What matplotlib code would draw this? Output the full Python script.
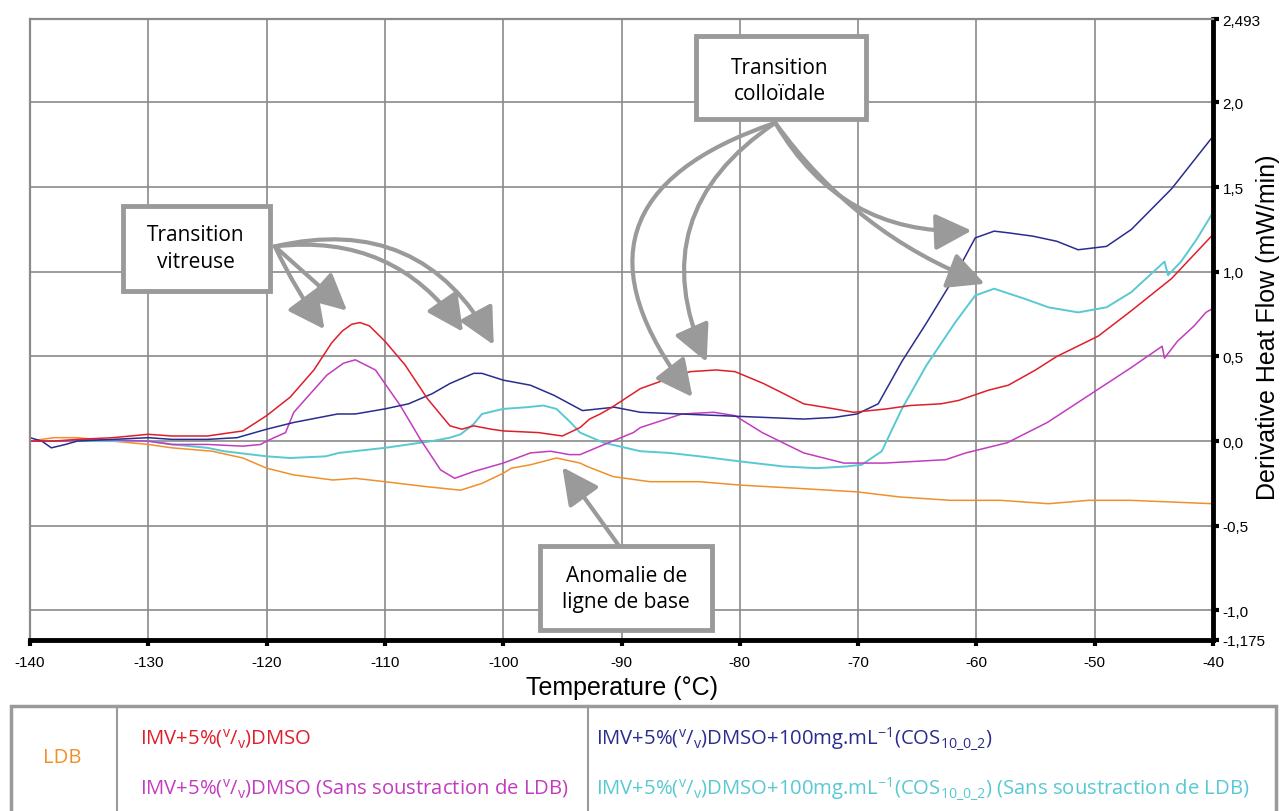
import matplotlib
matplotlib.use("Agg")
import matplotlib.pyplot as plt
from matplotlib.lines import Line2D
from matplotlib.patches import Rectangle

plt.rcParams['font.family'] = ['Liberation Sans', 'DejaVu Sans']
plt.rcParams['mathtext.default'] = 'regular'

# ---- data (Temperature in degC, heat flow in mW/min)
t_red = [-140, -138, -136, -133, -130, -128, -125, -122, -120, -118, -116,
         -114.5, -113.6, -112.8, -112.1, -111.3, -110, -108.3, -106.4, -104.5,
         -103.5, -102.5, -101, -100, -97, -95, -93.5, -92.7, -91.8, -90.8,
         -88.4, -86, -84.2, -82, -80.4, -78, -76, -74.6, -72, -70.4, -67.6,
         -65.6, -63, -61.5, -59, -57.3, -55, -53.2, -49.7, -46.9, -43.5, -40]
red = [0.0, 0.0, 0.01, 0.02, 0.04, 0.03, 0.03, 0.06, 0.15, 0.26, 0.42,
       0.58, 0.65, 0.69, 0.70, 0.68, 0.59, 0.45, 0.25, 0.09,
       0.07, 0.09, 0.07, 0.06, 0.05, 0.03, 0.08, 0.13, 0.16, 0.20,
       0.31, 0.37, 0.41, 0.42, 0.41, 0.34, 0.27, 0.22, 0.19, 0.17, 0.19,
       0.21, 0.22, 0.24, 0.30, 0.33, 0.42, 0.50, 0.62, 0.77, 0.96, 1.22]

t_blue = [-140, -139, -138.2, -137, -136, -133, -130, -128, -125, -122.5,
          -120, -117.7, -114, -112.5, -110, -108, -106, -104.5, -102.5,
          -101.8, -100, -97.7, -95.7, -93.3, -90.6, -88.4, -85, -81.5, -78,
          -74.6, -72, -70.1, -68.3, -66.3, -64.2, -62.1, -60.1, -58.5, -57.3,
          -55.2, -53.2, -51.4, -49, -46.9, -43.5, -40]
blue = [0.02, 0.0, -0.04, -0.02, 0.0, 0.01, 0.02, 0.01, 0.01, 0.02,
        0.07, 0.11, 0.16, 0.16, 0.19, 0.22, 0.28, 0.34, 0.40,
        0.40, 0.36, 0.33, 0.27, 0.18, 0.20, 0.17, 0.16, 0.15, 0.14,
        0.13, 0.14, 0.16, 0.22, 0.47, 0.70, 0.94, 1.20, 1.24, 1.23,
        1.21, 1.18, 1.13, 1.15, 1.25, 1.49, 1.80]

t_mag = [-140, -137, -135, -130, -128, -125, -122, -120.5, -120, -118.4,
         -117.7, -114.9, -113.5, -112.5, -110.8, -108.7, -107, -105.3,
         -104.1, -102.5, -100, -97.7, -96, -94.4, -93.5, -91.8, -89, -88.4,
         -84.9, -82.2, -80.4, -78.1, -74.6, -71.2, -67.8, -62.6, -60.9,
         -57.4, -54, -50.5, -47, -44.3, -44.1, -43, -41.6, -40.6, -40.1, -40]
magenta = [0.0, 0.0, 0.01, 0.0, -0.02, -0.02, -0.03, -0.02, 0.0, 0.05,
           0.17, 0.39, 0.46, 0.48, 0.42, 0.21, 0.01, -0.17,
           -0.22, -0.18, -0.13, -0.07, -0.06, -0.08, -0.08, -0.03, 0.05, 0.08,
           0.16, 0.17, 0.15, 0.05, -0.07, -0.13, -0.13, -0.11, -0.07,
           -0.01, 0.11, 0.27, 0.43, 0.56, 0.49, 0.59, 0.68, 0.76, 0.78, 0.86]

t_cyan = [-140, -135, -130, -128, -125, -123.6, -120, -118, -115, -113.9,
          -110, -106, -104.5, -103.6, -102.5, -101.8, -100, -98, -96.6,
          -95.5, -94.3, -93.5, -91.5, -88.4, -86, -83.4, -80, -76.3, -73.5,
          -71, -69.7, -68, -66.3, -64.2, -61.8, -60.1, -58.5, -55.9, -53.9,
          -51.4, -49, -46.9, -44.1, -43.8, -42.7, -41.4, -40]
cyan = [0.0, 0.0, 0.0, -0.02, -0.04, -0.06, -0.09, -0.10, -0.09, -0.07,
        -0.04, 0.0, 0.02, 0.04, 0.10, 0.16, 0.19, 0.20, 0.21,
        0.19, 0.11, 0.05, -0.01, -0.06, -0.07, -0.09, -0.12, -0.15, -0.16,
        -0.15, -0.14, -0.06, 0.19, 0.45, 0.70, 0.86, 0.90, 0.84, 0.79,
        0.76, 0.79, 0.88, 1.06, 0.98, 1.06, 1.19, 1.35]

t_ldb = [-140, -138, -136, -133, -130, -128, -124.6, -122, -120, -117.7,
         -114.4, -112.5, -110, -106.4, -103.6, -101.8, -100, -99.3, -97.7,
         -95.5, -93.5, -92.9, -90.7, -87.6, -83.4, -80, -74.9, -70.1, -66.5,
         -62.2, -58, -53.9, -50.5, -47, -43.5, -40]
ldb = [0.0, 0.02, 0.02, 0.0, -0.02, -0.04, -0.06, -0.10, -0.16, -0.20,
       -0.23, -0.22, -0.24, -0.27, -0.29, -0.25, -0.19, -0.16, -0.14,
       -0.10, -0.13, -0.15, -0.21, -0.24, -0.24, -0.26, -0.28, -0.30, -0.33,
       -0.35, -0.35, -0.37, -0.35, -0.35, -0.36, -0.37]

xticks = [-140, -130, -120, -110, -100, -90, -80, -70, -60, -50, -40]
yticks = [2.0, 1.5, 1.0, 0.5, 0.0, -0.5, -1.0]
ylabels = ['2,0', '1,5', '1,0', '0,5', '0,0', '-0,5', '-1,0']
yends = [2.493, -1.175]
yend_labels = ['2,493', '-1,175']

c_red = '#de1f2a'
c_blue = '#2a2d8e'
c_mag = '#c13cbf'
c_cyan = '#58c9d3'
c_ldb = '#f0902a'
c_grey = '#9a9a9a'

W, H = 1282, 812
AX0, AX1, AY0, AY1 = 30, 1213, 20, 641   # axes box in pixels
fig = plt.figure(figsize=(W / 100, H / 100), dpi=100)
ax = fig.add_axes([AX0 / W, 1 - AY1 / H, (AX1 - AX0) / W, (AY1 - AY0) / H])

lw = 1.1
ax.plot(t_ldb, ldb, color=c_ldb, lw=lw)
ax.plot(t_cyan, cyan, color=c_cyan, lw=lw + 0.3)
ax.plot(t_mag, magenta, color=c_mag, lw=lw)
ax.plot(t_blue, blue, color=c_blue, lw=lw)
ax.plot(t_red, red, color=c_red, lw=lw)

ax.set_xlim(-140, -40)
ax.set_ylim(-1.175, 2.493)
ax.set_xticks(xticks)
ax.set_xticklabels([str(v) for v in xticks], fontsize=11)
ax.yaxis.tick_right()
ax.yaxis.set_label_position('right')
ax.set_yticks(yticks)
ax.set_yticklabels(ylabels, fontsize=11)
ax.set_yticks(yends, minor=True)
ax.set_yticklabels(yend_labels, minor=True, fontsize=11)
ax.grid(True, which='major', color='#8a8a8a', lw=1.2)
ax.set_axisbelow(True)
ax.tick_params(axis='both', which='both', direction='out', length=4,
               width=3, color='black', pad=3)
ax.tick_params(axis='x', pad=7)

for side in ['top', 'left']:
    ax.spines[side].set_color('#8a8a8a')
    ax.spines[side].set_linewidth(1.6)
for side in ['bottom', 'right']:
    ax.spines[side].set_color('black')
    ax.spines[side].set_linewidth(3.5)

ax.set_xlabel('Temperature (°C)', fontsize=18, labelpad=4)
ax.set_ylabel('Derivative Heat Flow (mW/min)', fontsize=18)
ax.yaxis.set_label_coords((1268 - AX0) / (AX1 - AX0), 0.505)
ax.yaxis.label.set_verticalalignment('center')


def px_box(x0, y0, x1, y1):
    # grey framed box given in reference pixels
    r = Rectangle(((x0 - AX0) / (AX1 - AX0), (AY1 - y1) / (AY1 - AY0)),
                  (x1 - x0) / (AX1 - AX0), (y1 - y0) / (AY1 - AY0),
                  transform=ax.transAxes, fc='white', ec=c_grey, lw=3.5,
                  zorder=6)
    ax.add_patch(r)


tfont = dict(family=['Open Sans', 'DejaVu Sans'], fontsize=15, ha='center',
             va='center', linespacing=1.35, zorder=7)
px_box(123, 207, 270, 292)
ax.text(-126.0, 1.14, 'Transition\nvitreuse', **tfont)
px_box(696, 37, 866, 120)
ax.text(-76.6, 2.13, 'Transition\ncolloïdale', **tfont)
px_box(540, 547, 712, 631)
ax.text(-89.6, -0.87, 'Anomalie de\nligne de base', **tfont)


def arrow(start, end, rad):
    ax.annotate('', xy=end, xytext=start, zorder=5,
                arrowprops=dict(arrowstyle='-|>,head_length=1.5,head_width=0.75',
                                color=c_grey, lw=3, mutation_scale=15,
                                shrinkA=0, shrinkB=0,
                                connectionstyle='arc3,rad=%s' % rad))


vit = (-119.3, 1.15)
arrow(vit, (-113.2, 0.77), 0.0)
arrow(vit, (-115.1, 0.66), 0.05)
arrow(vit, (-103.4, 0.645), -0.3)
arrow(vit, (-100.8, 0.568), -0.38)

col = (-77.0, 1.88)
arrow(col, (-84.0, 0.26), 0.7)
arrow(col, (-82.8, 0.467), 0.42)
arrow(col, (-60.4, 1.243), 0.3)
arrow(col, (-59.3, 0.929), 0.15)

arrow((-90.3, -0.61), (-95.0, -0.154), 0.0)

# legend table under the chart
fig.add_artist(Rectangle((11 / W, -0.05), (1276 - 11) / W, 0.05 + 1 - 707 / H,
                         transform=fig.transFigure, fill=False, ec=c_grey,
                         lw=2.5))
for xp in [117, 588]:
    fig.add_artist(Line2D([xp / W, xp / W], [0, 1 - 707 / H],
                          transform=fig.transFigure, color=c_grey, lw=1.5))

lfont = dict(family=['Open Sans', 'DejaVu Sans'], fontsize=14.6, va='center')
vv = r'IMV+5%($^{v}$/$_{v}$)DMSO'
cos = r'+100mg.mL$^{-1}$(COS$_{10\_0\_2}$)'
fig.text(62 / W, 1 - 758 / H, 'LDB', color=c_ldb, ha='center', **lfont)
fig.text(140 / W, 1 - 739 / H, vv, color=c_red, **lfont)
fig.text(140 / W, 1 - 789 / H, vv + ' (Sans soustraction de LDB)',
         color=c_mag, **lfont)
fig.text(596 / W, 1 - 739 / H, vv + cos, color=c_blue, **lfont)
fig.text(596 / W, 1 - 789 / H, vv + cos + ' (Sans soustraction de LDB)',
         color=c_cyan, **lfont)

plt.savefig('out.png', dpi=100)
